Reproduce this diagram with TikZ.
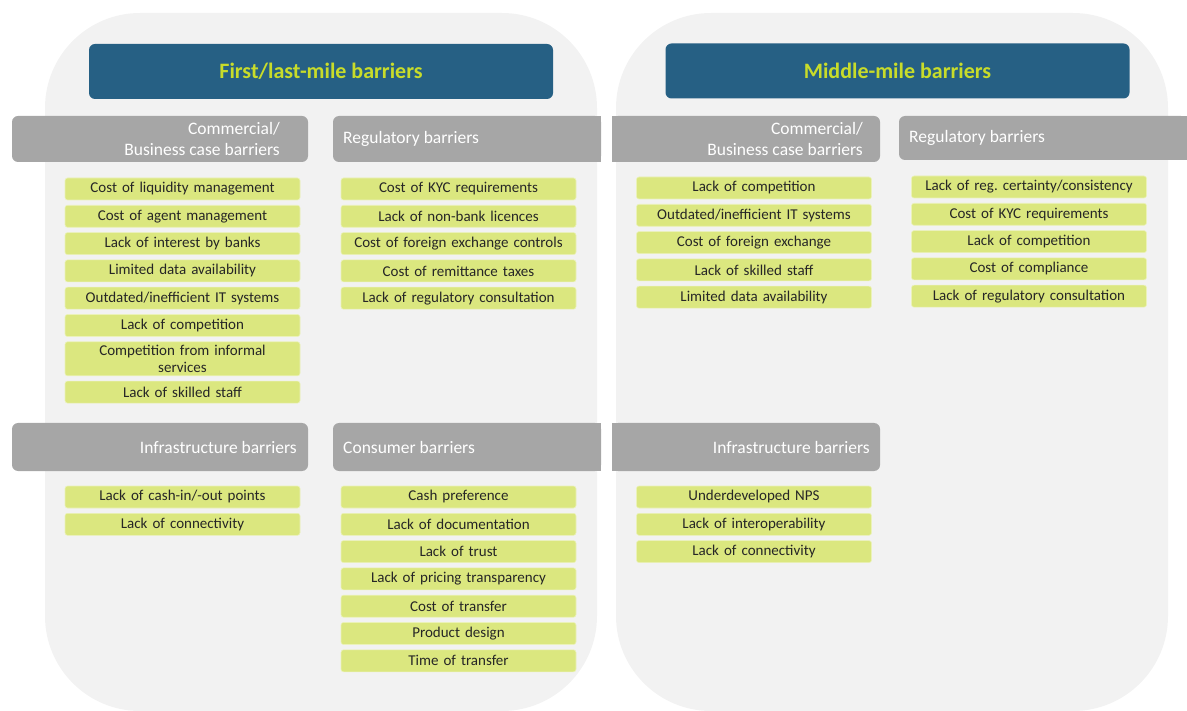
\documentclass[tikz,border=0pt]{standalone}
\usepackage{fontspec}
\setmainfont{Carlito}
\usepackage{tikz}
\usetikzlibrary{positioning}
\definecolor{panelgrey}{HTML}{F2F2F2}
\definecolor{headblue}{HTML}{266084}
\definecolor{headtext}{HTML}{C8DC2A}
\definecolor{bargrey}{HTML}{A6A6A6}
\definecolor{itemgreen}{HTML}{DBE77F}
\definecolor{itemtext}{HTML}{262626}

\begin{document}
\begin{tikzpicture}[x=1pt, y=-1pt,
        panel/.style={fill=panelgrey, rounded corners=95pt},
        header/.style={fill=headblue, rounded corners=6pt, minimum width=464pt, minimum height=55pt,
            font=\fontsize{22}{24}\selectfont\bfseries, text=headtext},
        bar/.style={fill=bargrey},
        bartext/.style={font=\fontsize{17.5}{21}\selectfont, text=white, inner sep=0pt},
        item/.style={fill=itemgreen, draw=itemgreen!55!white, line width=0.6pt, rounded corners=2.5pt,
            minimum width=235pt, minimum height=22pt, inner sep=0pt, text width=230pt, align=center,
            font=\fontsize{15}{17}\selectfont, text=itemtext},
        node distance=4.7pt
    ]
        \useasboundingbox (0,0) rectangle (1187,711);

        % Panels
        \fill[panel] (45,13) rectangle (597,711);
        \fill[panel] (616,13) rectangle (1168,711);

        % Headers
        \node[header] (firstlast) at (321,71.5) {First/last-mile barriers};
        \node[header] (middle) at (897.5,71) {Middle-mile barriers};

        % Grey bars, first row
        \fill[bar, rounded corners=6pt] (12,116) rectangle (308,162);
        \fill[bar, rounded corners=6pt] (333,116) rectangle (601,162);
        \fill[bar] (580,116) rectangle (601,162);
        \fill[bar, rounded corners=6pt] (612,116) rectangle (880,162);
        \fill[bar] (612,116) rectangle (630,162);
        \fill[bar, rounded corners=6pt] (899,116) rectangle (1187,160);
        \fill[bar] (1170,116) rectangle (1187,160);
        \node[bartext, align=right, anchor=east] (flcomm) at (280,139) {Commercial/\\Business case barriers};
        \node[bartext, anchor=west] (flreg) at (343,139) {Regulatory barriers};
        \node[bartext, align=right, anchor=east] (mmcomm) at (863,139) {Commercial/\\Business case barriers};
        \node[bartext, anchor=west] (mmreg) at (909,138) {Regulatory barriers};

        % Grey bars, second row
        \fill[bar, rounded corners=6pt] (12,423) rectangle (308,471);
        \fill[bar, rounded corners=6pt] (333,423) rectangle (601,471);
        \fill[bar] (580,423) rectangle (601,471);
        \fill[bar, rounded corners=6pt] (612,423) rectangle (880,471);
        \fill[bar] (612,423) rectangle (630,471);
        \node[bartext, anchor=east] (flinfra) at (297,447) {Infrastructure barriers};
        \node[bartext, anchor=west] (flcons) at (343,447) {Consumer barriers};
        \node[bartext, anchor=east] (mminfra) at (870,447) {Infrastructure barriers};

        % First/last-mile: commercial
        \node[item] (fc1) at (182.5,189) {Cost of liquidity management};
        \node[item, below=of fc1] (fc2) {Cost of agent management};
        \node[item, below=of fc2] (fc3) {Lack of interest by banks};
        \node[item, below=of fc3] (fc4) {Limited data availability};
        \node[item, below=of fc4] (fc5) {Outdated/inefficient IT systems};
        \node[item, below=of fc5] (fc6) {Lack of competition};
        \node[item, below=of fc6, minimum height=34pt] (fc7) {Competition from informal\\services};
        \node[item, below=of fc7] (fc8) {Lack of skilled staff};

        % First/last-mile: regulatory
        \node[item] (fr1) at (458.5,189) {Cost of KYC requirements};
        \node[item, below=of fr1] (fr2) {Lack of non-bank licences};
        \node[item, below=of fr2] (fr3) {Cost of foreign exchange controls};
        \node[item, below=of fr3] (fr4) {Cost of remittance taxes};
        \node[item, below=of fr4] (fr5) {Lack of regulatory consultation};

        % First/last-mile: infrastructure
        \node[item] (fi1) at (182.5,497) {Lack of cash-in/-out points};
        \node[item, below=of fi1] (fi2) {Lack of connectivity};

        % First/last-mile: consumer
        \node[item] (fu1) at (458.5,497) {Cash preference};
        \node[item, below=of fu1] (fu2) {Lack of documentation};
        \node[item, below=of fu2] (fu3) {Lack of trust};
        \node[item, below=of fu3] (fu4) {Lack of pricing transparency};
        \node[item, below=of fu4] (fu5) {Cost of transfer};
        \node[item, below=of fu5] (fu6) {Product design};
        \node[item, below=of fu6] (fu7) {Time of transfer};

        % Middle-mile: commercial
        \node[item] (mc1) at (754,188) {Lack of competition};
        \node[item, below=of mc1] (mc2) {Outdated/inefficient IT systems};
        \node[item, below=of mc2] (mc3) {Cost of foreign exchange};
        \node[item, below=of mc3] (mc4) {Lack of skilled staff};
        \node[item, below=of mc4] (mc5) {Limited data availability};

        % Middle-mile: regulatory
        \node[item] (mr1) at (1029,187) {Lack of reg.\ certainty/consistency};
        \node[item, below=of mr1] (mr2) {Cost of KYC requirements};
        \node[item, below=of mr2] (mr3) {Lack of competition};
        \node[item, below=of mr3] (mr4) {Cost of compliance};
        \node[item, below=of mr4] (mr5) {Lack of regulatory consultation};

        % Middle-mile: infrastructure
        \node[item] (mi1) at (754,497) {Underdeveloped NPS};
        \node[item, below=of mi1] (mi2) {Lack of interoperability};
        \node[item, below=of mi2] (mi3) {Lack of connectivity};

    \end{tikzpicture}
\end{document}
